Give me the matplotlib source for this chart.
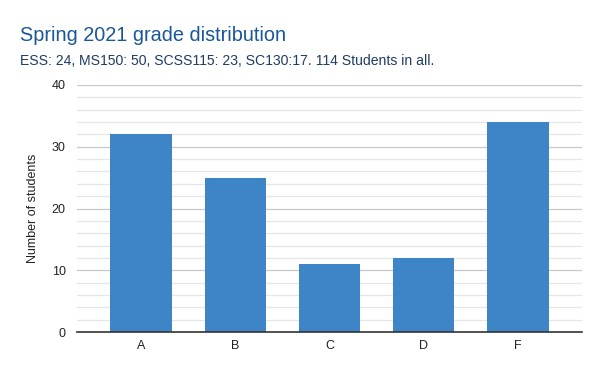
import matplotlib.pyplot as plt
from matplotlib.ticker import MultipleLocator

plt.rcParams['font.family'] = ['Liberation Sans', 'DejaVu Sans']

grades = ["A", "B", "C", "D", "F"]
students = [32, 25, 11, 12, 34]

C_BAR = "#3d85c6"
C_TITLE = "#1a5796"
C_SUB = "#1f3d66"
C_TEXT = "#222222"

fig = plt.figure(figsize=(6, 3.71), dpi=100, facecolor="white")
ax = fig.add_axes([0.128, 0.105, 0.842, 0.666])

ax.bar(range(len(grades)), students, width=0.65, color=C_BAR, zorder=3)

ax.set_xlim(-0.68, 4.68)
ax.set_ylim(0, 40)
ax.set_xticks(range(len(grades)))
ax.set_xticklabels(grades)
ax.yaxis.set_major_locator(MultipleLocator(10))
ax.yaxis.set_minor_locator(MultipleLocator(2))
ax.grid(axis="y", which="major", color="#c8c8c8", lw=0.9, zorder=0)
ax.grid(axis="y", which="minor", color="#e6e6e6", lw=0.9, zorder=0)

for s in ["top", "right", "left"]:
    ax.spines[s].set_visible(False)
ax.spines["bottom"].set_color("#333333")
ax.spines["bottom"].set_linewidth(1.2)
ax.spines["bottom"].set_zorder(4)

ax.tick_params(axis="both", which="both", length=0, labelsize=9, colors=C_TEXT)
ax.tick_params(axis="y", pad=8)
ax.tick_params(axis="x", pad=6)

ax.set_ylabel("Number of students", fontsize=9, color=C_TEXT, labelpad=9)

fig.text(0.033, 0.89, "Spring 2021 grade distribution", fontsize=14.3, color=C_TITLE)
fig.text(0.033, 0.825, "ESS: 24, MS150: 50, SCSS115: 23, SC130:17. 114 Students in all.",
         fontsize=10.1, color=C_SUB)

fig.savefig("out.png", dpi=100, facecolor="white")
